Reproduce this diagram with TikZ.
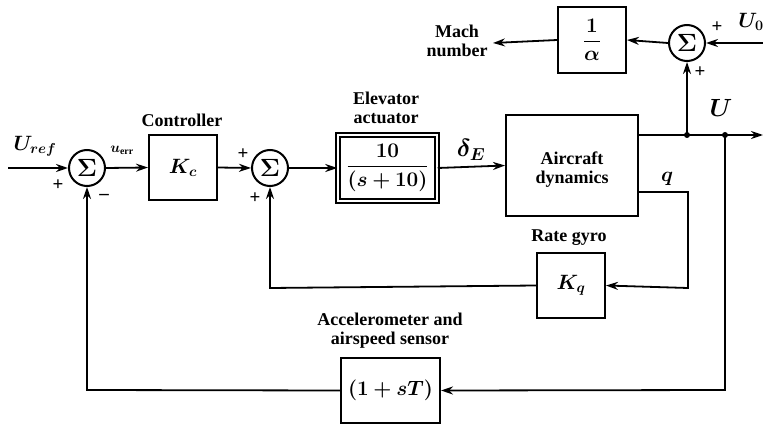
\documentclass[tikz,border=0pt]{standalone}
\usepackage{fontspec}
\setmainfont{Liberation Serif}
\usepackage{amsmath}
\usepackage{bm}
\usetikzlibrary{arrows.meta}
\begin{document}
\begin{tikzpicture}[x=1pt,y=-1pt,
  line width=1.8pt,
  font=\fontsize{18}{19}\selectfont\bfseries,
  arr/.style={-{Stealth[length=12pt,width=8pt]}},
  blk/.style={draw,line width=2pt,inner sep=0pt,font=\fontsize{21}{22}\selectfont},
  sumnode/.style={draw,circle,line width=2pt,minimum size=36pt,inner sep=0pt,font=\fontsize{29}{29}\selectfont},
  lbl/.style={inner sep=0pt,align=center},
  sgn/.style={inner sep=0pt,font=\fontsize{19}{19}\selectfont\bfseries}
]
\useasboundingbox (0,0) rectangle (763,425);

% blocks
\node[sumnode] (s1) at (87,168) {$\bm{\Sigma}$};
\node[blk,minimum width=68pt,minimum height=65pt] (ctrl) at (183,167.5) {$\bm{K_c}$};
\node[sumnode] (s2) at (270,168) {$\bm{\Sigma}$};
\node[blk,double,double distance=2.2pt,line width=1.5pt,minimum width=99pt,minimum height=66pt] (act) at (387.5,168) {$\dfrac{\bm{10}}{\bm{(s+10)}}$};
\node[blk,minimum width=132pt,minimum height=101pt] (air) at (572,165.5) {};
\node[lbl] (airt) at (572,170) {Aircraft\\dynamics};
\node[blk,minimum width=68pt,minimum height=65pt] (kq) at (571,285.5) {$\bm{K_q}$};
\node[blk,minimum width=99pt,minimum height=65pt] (acc) at (390.5,390.5) {$\bm{(1+sT)}$};
\node[blk,minimum width=68pt,minimum height=66pt] (alpha) at (592,40) {$\dfrac{\bm{1}}{\bm{\alpha}}$};
\node[sumnode] (s3) at (687,43) {$\bm{\Sigma}$};

% coordinates
\coordinate (in0) at (8,168);
\coordinate (j1) at (687,135);
\coordinate (j2) at (725,135);
\coordinate (uout) at (763,135);
\coordinate (u0in) at (763,43);
\coordinate (mach) at (493,43);
\coordinate (qy) at (688,192);
\coordinate (qc1) at (688,288);
\coordinate (kqc) at (270,288);
\coordinate (fb1) at (725,390);
\coordinate (fb2) at (87,390);

% connectors
\draw[arr] (in0) -- (s1.west);
\draw[arr] (s1.east) -- (ctrl.west);
\draw[arr] (ctrl.east) -- (s2.west);
\draw[arr] (s2.east) -- (act.west);
\draw[arr] (act.east) -- (air.west);
\draw[arr] (air.east |- j1) -- (uout);
\draw[arr] (j1) -- (s3.south);
\draw[arr] (u0in) -- (s3.east);
\draw[arr] (s3.west) -- (alpha.east);
\draw[arr] (alpha.west) -- (mach);
\draw[arr] (air.east |- qy) -- (qy) -- (qc1) -- (kq.east);
\draw[arr] (kq.west) -- (kqc) -- (s2.south);
\draw[arr] (j2) -- (fb1) -- (acc.east);
\draw[arr] (acc.west) -- (fb2) -- (s1.south);
\fill (j1) circle (3pt);
\fill (j2) circle (3pt);

% labels
\node[lbl,font=\fontsize{22}{22}\selectfont] (luref) at (35,146) {$\bm{U_{ref}}$};
\node[sgn] (p1) at (58,185) {+};
\node[sgn] (m1) at (104,197) {--};
\node[lbl,font=\fontsize{14}{14}\selectfont] (luerr) at (122,150) {$\bm{u_{\mathrm{err}}}$};
\node[lbl] (lctrl) at (182,120) {Controller};
\node[sgn] (p2) at (243,154) {+};
\node[sgn] (p3) at (255,198) {+};
\node[lbl] (lact) at (386,108) {Elevator\\actuator};
\node[lbl,font=\fontsize{24}{24}\selectfont] (ldel) at (471,150) {$\bm{\delta_E}$};
\node[lbl,font=\fontsize{20}{20}\selectfont] (lq) at (667,179) {$\bm{q}$};
\node[lbl] (lrg) at (569,238) {Rate gyro};
\node[lbl] (lacc) at (390,331) {Accelerometer and\\airspeed sensor};
\node[lbl] (lmach) at (457,41) {Mach\\number};
\node[sgn] (p4) at (717,27) {+};
\node[sgn] (p5) at (700,72) {+};
\node[lbl,font=\fontsize{20}{20}\selectfont] (lu0) at (751,22) {$\bm{U_0}$};
\node[lbl,font=\fontsize{24}{24}\selectfont] (lu) at (721,108) {$\bm{U}$};
\end{tikzpicture}
\end{document}
